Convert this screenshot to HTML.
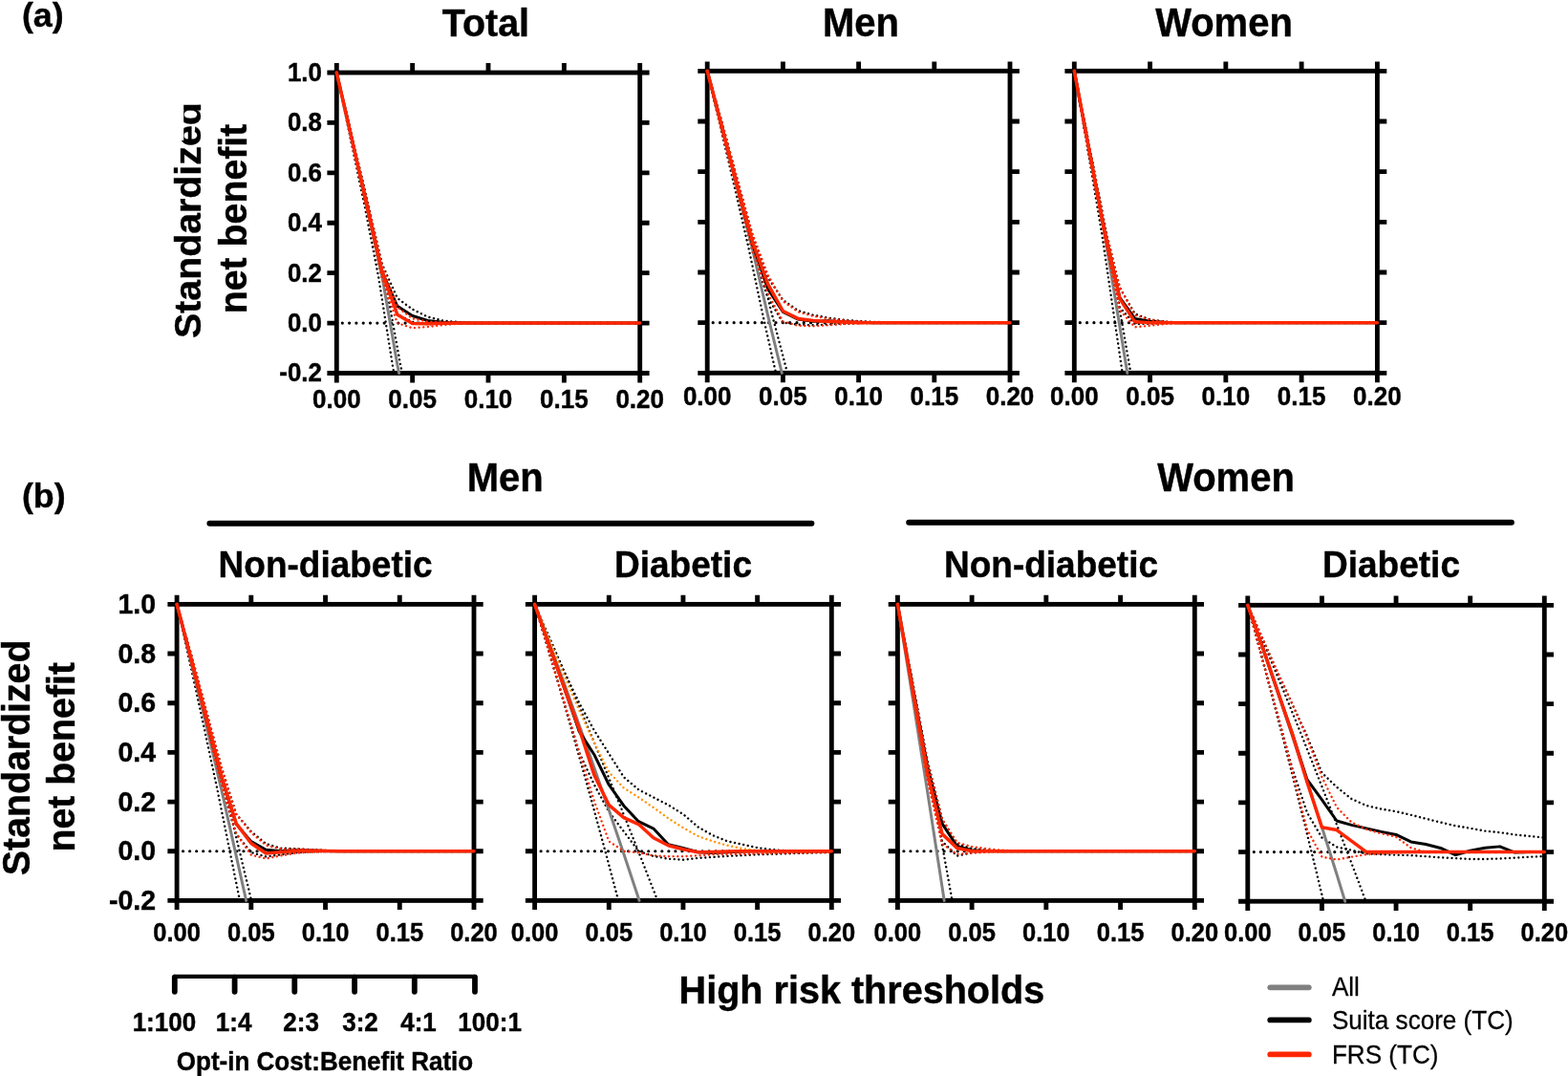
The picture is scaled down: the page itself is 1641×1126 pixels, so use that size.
<!DOCTYPE html>
<html lang="en">
<head>
<meta charset="utf-8">
<title>Decision curve analysis</title>
<style>
html,body{margin:0;padding:0;background:#fff;}
body{width:1641px;height:1126px;overflow:hidden;}
svg{display:block;}
text{font-family:"Liberation Sans",Arial,Helvetica,sans-serif;fill:#000;}
.b{font-weight:bold;stroke:#000;stroke-width:0.4px;}
.tk{font-weight:bold;stroke:#000;stroke-width:0.4px;}
.lg{font-weight:normal;stroke:#000;stroke-width:0.25px;}
.zd{stroke:#000;stroke-width:3.2;stroke-linecap:round;fill:none;}
.ci{stroke-width:2.4;stroke-linecap:round;stroke-linejoin:round;stroke-dasharray:0.01 4.65;fill:none;}
.ln{stroke-linecap:round;stroke-linejoin:round;fill:none;}
</style>
</head>
<body>
<svg width="1641" height="1126" viewBox="0 0 1641 1126">
<rect width="1641" height="1126" fill="#fff"/>
<g><rect x="352.3" y="76" width="317.4" height="314.5" fill="none" stroke="#000" stroke-width="4.85"/>
<path d="M352.3 76v-9.9M352.3 390.5v9.9M431.65 76v-9.9M431.65 390.5v9.9M511 76v-9.9M511 390.5v9.9M590.35 76v-9.9M590.35 390.5v9.9M669.7 76v-9.9M669.7 390.5v9.9M352.3 76h-9.9M669.7 76h9.9M352.3 128.42h-9.9M669.7 128.42h9.9M352.3 180.83h-9.9M669.7 180.83h9.9M352.3 233.25h-9.9M669.7 233.25h9.9M352.3 285.67h-9.9M669.7 285.67h9.9M352.3 338.08h-9.9M669.7 338.08h9.9M352.3 390.5h-9.9M669.7 390.5h9.9" stroke="#000" stroke-width="4.85" fill="none"/>
<path d="M358.3 338.08H666.7" class="zd" stroke-dasharray="0.01 7.3"/>
<polyline points="352.3,76 366.9,145.45 381.5,214.9 396.1,289.6 410.7,381.33 412.38,390.5" class="ci" stroke="#000"/>
<polyline points="352.3,76 368.98,145.45 385.66,214.9 402.34,289.6 419.02,381.33 420.93,390.5" class="ci" stroke="#000"/>
<polyline points="352.3,76 368.17,141.52 384.04,209.66 399.91,276.49 415.78,311.88 431.65,323.67 447.52,331.53 463.39,335.46 479.26,337.04 495.13,337.82 511,338.08 526.87,338.08 542.74,338.08 558.61,338.08 574.48,338.08 590.35,338.08 606.22,338.08 622.09,338.08 637.96,338.08 653.83,338.08 669.7,338.08" class="ci" stroke="#000"/>
<polyline points="352.3,76 368.17,149.38 384.04,220.15 399.91,290.91 415.78,328.91 431.65,336.77 447.52,339.39 463.39,338.87 479.26,338.35 495.13,338.08 511,338.08 526.87,338.08 542.74,338.08 558.61,338.08 574.48,338.08 590.35,338.08 606.22,338.08 622.09,338.08 637.96,338.08 653.83,338.08 669.7,338.08" class="ci" stroke="#000"/>
<polyline points="352.3,76 368.17,145.45 384.04,214.9 399.91,289.6 415.78,381.33 417.6,390.5" class="ln" stroke="#808080" stroke-width="3"/>
<polyline points="352.3,76 368.17,145.45 384.04,214.9 399.91,284.36 415.78,320.26 431.65,330.48 447.52,335.46 463.39,337.3 479.26,337.82 495.13,338.08 511,338.08 526.87,338.08 542.74,338.08 558.61,338.08 574.48,338.08 590.35,338.08 606.22,338.08 622.09,338.08 637.96,338.08 653.83,338.08 669.7,338.08" class="ln" stroke="#000" stroke-width="3"/>
<polyline points="352.3,76 368.17,149.38 384.04,220.15 399.91,290.91 415.78,338.08 431.65,343.33 447.52,342.01 463.39,340.18 479.26,338.87 495.13,338.08 511,338.08 526.87,338.08 542.74,338.08 558.61,338.08 574.48,338.08 590.35,338.08 606.22,338.08 622.09,338.08 637.96,338.08 653.83,338.08 669.7,338.08" class="ci" stroke="#ff2600"/>
<polyline points="352.3,76 368.17,141.52 384.04,209.66 399.91,277.8 415.78,321.31 431.65,333.37 447.52,336.51 463.39,337.56 479.26,338.08 495.13,338.08 511,338.08 526.87,338.08 542.74,338.08 558.61,338.08 574.48,338.08 590.35,338.08 606.22,338.08 622.09,338.08 637.96,338.08 653.83,338.08 669.7,338.08" class="ci" stroke="#ff2600"/>
<polyline points="352.3,76 368.17,145.45 384.04,214.9 399.91,284.36 415.78,329.17 431.65,338.61 447.52,338.87 463.39,338.35 479.26,338.08 495.13,338.08 511,338.08 526.87,338.08 542.74,338.08 558.61,338.08 574.48,338.08 590.35,338.08 606.22,338.08 622.09,338.08 637.96,338.08 653.83,338.08 669.7,338.08" class="ln" stroke="#ff2600" stroke-width="3.5"/>
<text transform="translate(352.3 427) scale(1.0 1.07)" class="tk" font-size="26" text-anchor="middle">0.00</text>
<text transform="translate(431.65 427) scale(1.0 1.07)" class="tk" font-size="26" text-anchor="middle">0.05</text>
<text transform="translate(511 427) scale(1.0 1.07)" class="tk" font-size="26" text-anchor="middle">0.10</text>
<text transform="translate(590.35 427) scale(1.0 1.07)" class="tk" font-size="26" text-anchor="middle">0.15</text>
<text transform="translate(669.7 427) scale(1.0 1.07)" class="tk" font-size="26" text-anchor="middle">0.20</text>
<text transform="translate(336.9 84.9) scale(1.0 1.07)" class="tk" font-size="25.9" text-anchor="end">1.0</text>
<text transform="translate(336.9 137.32) scale(1.0 1.07)" class="tk" font-size="25.9" text-anchor="end">0.8</text>
<text transform="translate(336.9 189.73) scale(1.0 1.07)" class="tk" font-size="25.9" text-anchor="end">0.6</text>
<text transform="translate(336.9 242.15) scale(1.0 1.07)" class="tk" font-size="25.9" text-anchor="end">0.4</text>
<text transform="translate(336.9 294.57) scale(1.0 1.07)" class="tk" font-size="25.9" text-anchor="end">0.2</text>
<text transform="translate(336.9 346.98) scale(1.0 1.07)" class="tk" font-size="25.9" text-anchor="end">0.0</text>
<text transform="translate(336.9 399.4) scale(1.0 1.07)" class="tk" font-size="25.9" text-anchor="end">-0.2</text></g>
<g><rect x="740.2" y="74.3" width="316.8" height="316" fill="none" stroke="#000" stroke-width="4.85"/>
<path d="M740.2 74.3v-9.9M740.2 390.3v9.9M819.4 74.3v-9.9M819.4 390.3v9.9M898.6 74.3v-9.9M898.6 390.3v9.9M977.8 74.3v-9.9M977.8 390.3v9.9M1057 74.3v-9.9M1057 390.3v9.9M740.2 74.3h-9.9M1057 74.3h9.9M740.2 126.97h-9.9M1057 126.97h9.9M740.2 179.63h-9.9M1057 179.63h9.9M740.2 232.3h-9.9M1057 232.3h9.9M740.2 284.97h-9.9M1057 284.97h9.9M740.2 337.63h-9.9M1057 337.63h9.9M740.2 390.3h-9.9M1057 390.3h9.9" stroke="#000" stroke-width="4.85" fill="none"/>
<path d="M746.2 337.63H1054" class="zd" stroke-dasharray="0.01 7.3"/>
<polyline points="740.2,74.3 754.76,136.18 769.31,198.07 783.87,261.27 798.43,330 811.98,390.3" class="ci" stroke="#000"/>
<polyline points="740.2,74.3 757.2,136.18 774.19,198.07 791.19,261.27 808.19,330 824.01,390.3" class="ci" stroke="#000"/>
<polyline points="740.2,74.3 756.04,129.6 771.88,188.85 787.72,246.78 803.56,290.23 819.4,313.93 835.24,324.99 851.08,329.73 866.92,332.63 882.76,334.74 898.6,336.05 914.44,336.84 930.28,337.37 946.12,337.63 961.96,337.63 977.8,337.63 993.64,337.63 1009.48,337.63 1025.32,337.63 1041.16,337.63 1057,337.63" class="ci" stroke="#000"/>
<polyline points="740.2,74.3 756.04,140.13 771.88,202.02 787.72,263.9 803.56,311.3 819.4,337.63 835.24,339.74 851.08,340.27 866.92,339.48 882.76,338.69 898.6,338.16 914.44,337.63 930.28,337.63 946.12,337.63 961.96,337.63 977.8,337.63 993.64,337.63 1009.48,337.63 1025.32,337.63 1041.16,337.63 1057,337.63" class="ci" stroke="#000"/>
<polyline points="740.2,74.3 756.04,136.18 771.88,198.07 787.72,261.27 803.56,330 818.31,390.3" class="ln" stroke="#808080" stroke-width="3"/>
<polyline points="740.2,74.3 756.04,134.87 771.88,195.43 787.72,256 803.56,302.08 819.4,326.31 835.24,334.08 851.08,336.32 866.92,335.79 882.76,336.84 898.6,337.37 914.44,337.63 930.28,337.63 946.12,337.63 961.96,337.63 977.8,337.63 993.64,337.63 1009.48,337.63 1025.32,337.63 1041.16,337.63 1057,337.63" class="ln" stroke="#000" stroke-width="3"/>
<polyline points="740.2,74.3 756.04,140.13 771.88,202.02 787.72,262.58 803.56,307.35 819.4,336.32 835.24,340.79 851.08,341.32 866.92,340.27 882.76,339.21 898.6,338.42 914.44,337.9 930.28,337.63 946.12,337.63 961.96,337.63 977.8,337.63 993.64,337.63 1009.48,337.63 1025.32,337.63 1041.16,337.63 1057,337.63" class="ci" stroke="#ff2600"/>
<polyline points="740.2,74.3 756.04,129.6 771.88,188.85 787.72,245.47 803.56,287.6 819.4,315.25 835.24,326.31 851.08,330.79 866.92,333.42 882.76,335.26 898.6,336.32 914.44,337.11 930.28,337.63 946.12,337.63 961.96,337.63 977.8,337.63 993.64,337.63 1009.48,337.63 1025.32,337.63 1041.16,337.63 1057,337.63" class="ci" stroke="#ff2600"/>
<polyline points="740.2,74.3 756.04,134.87 771.88,195.43 787.72,253.37 803.56,297.08 819.4,325.52 835.24,333.42 851.08,335.53 866.92,336.58 882.76,337.11 898.6,337.63 914.44,337.63 930.28,337.63 946.12,337.63 961.96,337.63 977.8,337.63 993.64,337.63 1009.48,337.63 1025.32,337.63 1041.16,337.63 1057,337.63" class="ln" stroke="#ff2600" stroke-width="3.5"/>
<text transform="translate(740.2 424) scale(1.0 1.07)" class="tk" font-size="26" text-anchor="middle">0.00</text>
<text transform="translate(819.4 424) scale(1.0 1.07)" class="tk" font-size="26" text-anchor="middle">0.05</text>
<text transform="translate(898.6 424) scale(1.0 1.07)" class="tk" font-size="26" text-anchor="middle">0.10</text>
<text transform="translate(977.8 424) scale(1.0 1.07)" class="tk" font-size="26" text-anchor="middle">0.15</text>
<text transform="translate(1057 424) scale(1.0 1.07)" class="tk" font-size="26" text-anchor="middle">0.20</text></g>
<g><rect x="1124.3" y="74.3" width="317.1" height="316" fill="none" stroke="#000" stroke-width="4.85"/>
<path d="M1124.3 74.3v-9.9M1124.3 390.3v9.9M1203.58 74.3v-9.9M1203.58 390.3v9.9M1282.85 74.3v-9.9M1282.85 390.3v9.9M1362.12 74.3v-9.9M1362.12 390.3v9.9M1441.4 74.3v-9.9M1441.4 390.3v9.9M1124.3 74.3h-9.9M1441.4 74.3h9.9M1124.3 126.97h-9.9M1441.4 126.97h9.9M1124.3 179.63h-9.9M1441.4 179.63h9.9M1124.3 232.3h-9.9M1441.4 232.3h9.9M1124.3 284.97h-9.9M1441.4 284.97h9.9M1124.3 337.63h-9.9M1441.4 337.63h9.9M1124.3 390.3h-9.9M1441.4 390.3h9.9" stroke="#000" stroke-width="4.85" fill="none"/>
<path d="M1130.3 337.63H1438.4" class="zd" stroke-dasharray="0.01 7.3"/>
<polyline points="1124.3,74.3 1138.7,158.57 1153.09,244.15 1167.49,341.58 1174.69,390.3" class="ci" stroke="#000"/>
<polyline points="1124.3,74.3 1141.17,158.57 1158.04,244.15 1174.91,341.58 1183.34,390.3" class="ci" stroke="#000"/>
<polyline points="1124.3,74.3 1140.15,153.3 1156.01,236.25 1171.87,300.77 1187.72,328.42 1203.58,334.47 1219.43,336.58 1235.29,337.63 1251.14,337.63 1266.99,337.63 1282.85,337.63 1298.7,337.63 1314.56,337.63 1330.41,337.63 1346.27,337.63 1362.12,337.63 1377.98,337.63 1393.84,337.63 1409.69,337.63 1425.55,337.63 1441.4,337.63" class="ci" stroke="#000"/>
<polyline points="1124.3,74.3 1140.15,163.83 1156.01,249.42 1171.87,321.83 1187.72,338.95 1203.58,338.69 1219.43,338.16 1235.29,337.63 1251.14,337.63 1266.99,337.63 1282.85,337.63 1298.7,337.63 1314.56,337.63 1330.41,337.63 1346.27,337.63 1362.12,337.63 1377.98,337.63 1393.84,337.63 1409.69,337.63 1425.55,337.63 1441.4,337.63" class="ci" stroke="#000"/>
<polyline points="1124.3,74.3 1140.15,158.57 1156.01,244.15 1171.87,341.58 1179.79,390.3" class="ln" stroke="#808080" stroke-width="3"/>
<polyline points="1124.3,74.3 1140.15,158.57 1156.01,242.31 1171.87,311.3 1187.72,333.42 1203.58,336.32 1219.43,337.37 1235.29,337.63 1251.14,337.63 1266.99,337.63 1282.85,337.63 1298.7,337.63 1314.56,337.63 1330.41,337.63 1346.27,337.63 1362.12,337.63 1377.98,337.63 1393.84,337.63 1409.69,337.63 1425.55,337.63 1441.4,337.63" class="ln" stroke="#000" stroke-width="3"/>
<polyline points="1124.3,74.3 1140.15,163.83 1156.01,249.42 1171.87,324.47 1187.72,342.37 1203.58,340.79 1219.43,338.95 1235.29,338.16 1251.14,337.63 1266.99,337.63 1282.85,337.63 1298.7,337.63 1314.56,337.63 1330.41,337.63 1346.27,337.63 1362.12,337.63 1377.98,337.63 1393.84,337.63 1409.69,337.63 1425.55,337.63 1441.4,337.63" class="ci" stroke="#ff2600"/>
<polyline points="1124.3,74.3 1140.15,153.3 1156.01,236.25 1171.87,300.77 1187.72,329.73 1203.58,334.47 1219.43,336.58 1235.29,337.37 1251.14,337.63 1266.99,337.63 1282.85,337.63 1298.7,337.63 1314.56,337.63 1330.41,337.63 1346.27,337.63 1362.12,337.63 1377.98,337.63 1393.84,337.63 1409.69,337.63 1425.55,337.63 1441.4,337.63" class="ci" stroke="#ff2600"/>
<polyline points="1124.3,74.3 1140.15,158.57 1156.01,242.83 1171.87,312.62 1187.72,336.84 1203.58,337.63 1219.43,337.63 1235.29,337.63 1251.14,337.63 1266.99,337.63 1282.85,337.63 1298.7,337.63 1314.56,337.63 1330.41,337.63 1346.27,337.63 1362.12,337.63 1377.98,337.63 1393.84,337.63 1409.69,337.63 1425.55,337.63 1441.4,337.63" class="ln" stroke="#ff2600" stroke-width="3.5"/>
<text transform="translate(1124.3 424) scale(1.0 1.07)" class="tk" font-size="26" text-anchor="middle">0.00</text>
<text transform="translate(1203.58 424) scale(1.0 1.07)" class="tk" font-size="26" text-anchor="middle">0.05</text>
<text transform="translate(1282.85 424) scale(1.0 1.07)" class="tk" font-size="26" text-anchor="middle">0.10</text>
<text transform="translate(1362.12 424) scale(1.0 1.07)" class="tk" font-size="26" text-anchor="middle">0.15</text>
<text transform="translate(1441.4 424) scale(1.0 1.07)" class="tk" font-size="26" text-anchor="middle">0.20</text></g>
<g><rect x="185.1" y="632.35" width="310.9" height="310.05" fill="none" stroke="#000" stroke-width="4.85"/>
<path d="M185.1 632.35v-9.7M185.1 942.4v9.7M262.82 632.35v-9.7M262.82 942.4v9.7M340.55 632.35v-9.7M340.55 942.4v9.7M418.27 632.35v-9.7M418.27 942.4v9.7M496 632.35v-9.7M496 942.4v9.7M185.1 632.35h-9.7M496 632.35h9.7M185.1 684.02h-9.7M496 684.02h9.7M185.1 735.7h-9.7M496 735.7h9.7M185.1 787.38h-9.7M496 787.38h9.7M185.1 839.05h-9.7M496 839.05h9.7M185.1 890.72h-9.7M496 890.72h9.7M185.1 942.4h-9.7M496 942.4h9.7" stroke="#000" stroke-width="4.85" fill="none"/>
<path d="M191.6 890.73H493" class="zd" stroke-dasharray="0.01 7.03"/>
<polyline points="185.1,632.35 199.21,695.65 213.33,760.25 227.44,826.13 241.56,895.89 250.97,942.4" class="ci" stroke="#000"/>
<polyline points="185.1,632.35 201.81,695.65 218.52,760.25 235.23,826.13 251.94,895.89 263.08,942.4" class="ci" stroke="#000"/>
<polyline points="185.1,632.35 200.64,686.61 216.19,744.74 231.73,802.88 247.28,851.97 262.82,870.06 278.37,882.97 293.91,887.62 309.46,888.14 325,889.17 340.55,889.95 356.09,890.47 371.64,890.73 387.19,890.73 402.73,890.73 418.27,890.73 433.82,890.73 449.37,890.73 464.91,890.73 480.45,890.73 496,890.73" class="ci" stroke="#000"/>
<polyline points="185.1,632.35 200.64,696.94 216.19,758.95 231.73,822.26 247.28,872.64 262.82,892.02 278.37,896.41 293.91,894.34 309.46,892.28 325,891.5 340.55,890.98 356.09,890.73 371.64,890.73 387.19,890.73 402.73,890.73 418.27,890.73 433.82,890.73 449.37,890.73 464.91,890.73 480.45,890.73 496,890.73" class="ci" stroke="#000"/>
<polyline points="185.1,632.35 200.64,695.65 216.19,760.25 231.73,826.13 247.28,895.89 257.64,942.4" class="ln" stroke="#808080" stroke-width="3"/>
<polyline points="185.1,632.35 200.64,691.78 216.19,752.49 231.73,813.21 247.28,862.3 262.82,880.65 278.37,889.3 293.91,890.73 309.46,889.69 325,889.95 340.55,890.47 356.09,890.73 371.64,890.73 387.19,890.73 402.73,890.73 418.27,890.73 433.82,890.73 449.37,890.73 464.91,890.73 480.45,890.73 496,890.73" class="ln" stroke="#000" stroke-width="3"/>
<polyline points="185.1,632.35 200.64,696.94 216.19,758.95 231.73,820.96 247.28,872.64 262.82,894.6 278.37,898.48 293.91,895.38 309.46,892.79 325,891.76 340.55,891.24 356.09,890.73 371.64,890.73 387.19,890.73 402.73,890.73 418.27,890.73 433.82,890.73 449.37,890.73 464.91,890.73 480.45,890.73 496,890.73" class="ci" stroke="#ff2600"/>
<polyline points="185.1,632.35 200.64,686.61 216.19,744.74 231.73,802.88 247.28,851.97 262.82,871.35 278.37,884.52 293.91,888.4 309.46,888.4 325,889.17 340.55,889.95 356.09,890.47 371.64,890.73 387.19,890.73 402.73,890.73 418.27,890.73 433.82,890.73 449.37,890.73 464.91,890.73 480.45,890.73 496,890.73" class="ci" stroke="#ff2600"/>
<polyline points="185.1,632.35 200.64,691.78 216.19,751.2 231.73,811.92 247.28,861.92 262.82,882.46 278.37,893.05 293.91,891.76 309.46,890.47 325,890.21 340.55,890.47 356.09,890.73 371.64,890.73 387.19,890.73 402.73,890.73 418.27,890.73 433.82,890.73 449.37,890.73 464.91,890.73 480.45,890.73 496,890.73" class="ln" stroke="#ff2600" stroke-width="3.5"/>
<text transform="translate(185.1 985) scale(1.0 1.07)" class="tk" font-size="25.5" text-anchor="middle">0.00</text>
<text transform="translate(262.82 985) scale(1.0 1.07)" class="tk" font-size="25.5" text-anchor="middle">0.05</text>
<text transform="translate(340.55 985) scale(1.0 1.07)" class="tk" font-size="25.5" text-anchor="middle">0.10</text>
<text transform="translate(418.27 985) scale(1.0 1.07)" class="tk" font-size="25.5" text-anchor="middle">0.15</text>
<text transform="translate(496 985) scale(1.0 1.07)" class="tk" font-size="25.5" text-anchor="middle">0.20</text>
<text transform="translate(163.1 641.85) scale(1.0 1.02)" class="tk" font-size="28.5" text-anchor="end">1.0</text>
<text transform="translate(163.1 693.52) scale(1.0 1.02)" class="tk" font-size="28.5" text-anchor="end">0.8</text>
<text transform="translate(163.1 745.2) scale(1.0 1.02)" class="tk" font-size="28.5" text-anchor="end">0.6</text>
<text transform="translate(163.1 796.88) scale(1.0 1.02)" class="tk" font-size="28.5" text-anchor="end">0.4</text>
<text transform="translate(163.1 848.55) scale(1.0 1.02)" class="tk" font-size="28.5" text-anchor="end">0.2</text>
<text transform="translate(163.1 900.22) scale(1.0 1.02)" class="tk" font-size="28.5" text-anchor="end">0.0</text>
<text transform="translate(163.1 951.9) scale(1.0 1.02)" class="tk" font-size="28.5" text-anchor="end">-0.2</text></g>
<g><rect x="559.6" y="632.35" width="310.7" height="310.05" fill="none" stroke="#000" stroke-width="4.85"/>
<path d="M559.6 632.35v-9.7M559.6 942.4v9.7M637.27 632.35v-9.7M637.27 942.4v9.7M714.95 632.35v-9.7M714.95 942.4v9.7M792.62 632.35v-9.7M792.62 942.4v9.7M870.3 632.35v-9.7M870.3 942.4v9.7M559.6 632.35h-9.7M870.3 632.35h9.7M559.6 684.02h-9.7M870.3 684.02h9.7M559.6 735.7h-9.7M870.3 735.7h9.7M559.6 787.38h-9.7M870.3 787.38h9.7M559.6 839.05h-9.7M870.3 839.05h9.7M559.6 890.72h-9.7M870.3 890.72h9.7M559.6 942.4h-9.7M870.3 942.4h9.7" stroke="#000" stroke-width="4.85" fill="none"/>
<path d="M566.1 890.73H867.3" class="zd" stroke-dasharray="0.01 7.03"/>
<polyline points="559.6,632.35 572.03,673.69 584.46,715.81 596.88,758.95 609.31,802.88 621.74,847.68 634.17,893.49 646.6,940.33 647.13,942.4" class="ci" stroke="#000"/>
<polyline points="559.6,632.35 577.85,673.69 596.11,715.81 614.36,758.95 632.61,802.88 650.87,847.68 669.12,893.49 687.38,940.33 688.16,942.4" class="ci" stroke="#000"/>
<polyline points="559.6,632.35 575.13,668.52 590.67,703.4 606.21,735.7 621.74,764.12 637.27,788.67 652.81,813.21 668.35,826.39 683.88,834.4 699.41,842.41 714.95,851.97 730.49,865.4 746.02,874.19 761.55,880.39 777.09,883.75 792.62,887.11 808.16,889.17 823.69,890.21 839.23,890.73 854.76,890.73 870.3,890.73" class="ci" stroke="#000"/>
<polyline points="559.6,632.35 575.13,684.02 590.67,735.7 606.21,787.38 621.74,820.96 637.27,849.38 652.81,870.06 668.35,890.73 683.88,895.89 699.41,898.73 714.95,899.77 730.49,897.96 746.02,896.93 761.55,895.89 777.09,895.12 792.62,894.34 808.16,893.83 823.69,893.31 839.23,892.79 854.76,892.28 870.3,892.02" class="ci" stroke="#000"/>
<polyline points="559.6,632.35 575.13,673.69 590.67,715.81 606.21,758.95 621.74,802.88 637.27,847.68 652.81,893.49 668.35,940.33 669.02,942.4" class="ln" stroke="#808080" stroke-width="3"/>
<polyline points="559.6,632.35 575.13,676.27 590.67,720.2 606.21,765.41 621.74,789.44 637.27,821.22 652.81,843.18 668.35,859.72 683.88,867.06 699.41,883.75 714.95,887.37 730.49,891.76 746.02,892.53 761.55,891.76 777.09,890.98 792.62,890.73 808.16,890.73 823.69,890.73 839.23,890.73 854.76,890.73 870.3,890.73" class="ln" stroke="#000" stroke-width="3"/>
<polyline points="559.6,632.35 575.13,684.02 590.67,735.7 606.21,787.38 621.74,838.02 637.27,880.39 652.81,890.73 668.35,892.28 683.88,895.38 699.41,896.15 714.95,896.15 730.49,895.38 746.02,894.34 761.55,893.83 777.09,893.57 792.62,893.31 808.16,893.05 823.69,892.79 839.23,892.53 854.76,892.28 870.3,892.02" class="ci" stroke="#ff2600"/>
<polyline points="559.6,632.35 575.13,669.81 590.67,707.28 606.21,743.45 621.74,777.04 637.27,808.04 652.81,824.58 668.35,834.4 683.88,844.99 699.41,856.36 714.95,866.18 730.49,874.96 746.02,880.39 761.55,884.78 777.09,888.14 792.62,889.95 808.16,890.73 823.69,890.73 839.23,890.73 854.76,890.73 870.3,890.73" class="ci" stroke="#ff9300"/>
<polyline points="559.6,632.35 575.13,676.27 590.67,720.2 606.21,762.83 621.74,810.63 637.27,842.41 652.81,855.59 668.35,862.56 683.88,876.77 699.41,884.78 714.95,888.79 730.49,891.76 746.02,891.5 761.55,890.98 777.09,890.73 792.62,890.73 808.16,890.73 823.69,890.73 839.23,890.73 854.76,890.73 870.3,890.73" class="ln" stroke="#ff2600" stroke-width="3.5"/>
<text transform="translate(559.6 985) scale(1.0 1.07)" class="tk" font-size="25.5" text-anchor="middle">0.00</text>
<text transform="translate(637.27 985) scale(1.0 1.07)" class="tk" font-size="25.5" text-anchor="middle">0.05</text>
<text transform="translate(714.95 985) scale(1.0 1.07)" class="tk" font-size="25.5" text-anchor="middle">0.10</text>
<text transform="translate(792.62 985) scale(1.0 1.07)" class="tk" font-size="25.5" text-anchor="middle">0.15</text>
<text transform="translate(870.3 985) scale(1.0 1.07)" class="tk" font-size="25.5" text-anchor="middle">0.20</text></g>
<g><rect x="939.4" y="632.35" width="310.9" height="310.05" fill="none" stroke="#000" stroke-width="4.85"/>
<path d="M939.4 632.35v-9.7M939.4 942.4v9.7M1017.12 632.35v-9.7M1017.12 942.4v9.7M1094.85 632.35v-9.7M1094.85 942.4v9.7M1172.58 632.35v-9.7M1172.58 942.4v9.7M1250.3 632.35v-9.7M1250.3 942.4v9.7M939.4 632.35h-9.7M1250.3 632.35h9.7M939.4 684.02h-9.7M1250.3 684.02h9.7M939.4 735.7h-9.7M1250.3 735.7h9.7M939.4 787.38h-9.7M1250.3 787.38h9.7M939.4 839.05h-9.7M1250.3 839.05h9.7M939.4 890.72h-9.7M1250.3 890.72h9.7M939.4 942.4h-9.7M1250.3 942.4h9.7" stroke="#000" stroke-width="4.85" fill="none"/>
<path d="M945.9 890.73H1247.3" class="zd" stroke-dasharray="0.01 7.03"/>
<polyline points="939.4,632.35 957.59,728.98 975.78,827.55 993.96,928.19 996.48,942.4" class="ci" stroke="#000"/>
<polyline points="939.4,632.35 954.94,712.45 970.49,795.13 986.03,857.14 1001.58,882.97 1017.12,888.14 1032.67,889.69 1048.21,890.73 1063.76,890.73 1079.3,890.73 1094.85,890.73 1110.39,890.73 1125.94,890.73 1141.48,890.73 1157.03,890.73 1172.58,890.73 1188.12,890.73 1203.66,890.73 1219.21,890.73 1234.75,890.73 1250.3,890.73" class="ci" stroke="#000"/>
<polyline points="939.4,632.35 954.94,722.78 970.49,813.21 986.03,880.39 1001.58,895.63 1017.12,892.28 1032.67,891.24 1048.21,890.73 1063.76,890.73 1079.3,890.73 1094.85,890.73 1110.39,890.73 1125.94,890.73 1141.48,890.73 1157.03,890.73 1172.58,890.73 1188.12,890.73 1203.66,890.73 1219.21,890.73 1234.75,890.73 1250.3,890.73" class="ci" stroke="#000"/>
<polyline points="939.4,632.35 954.94,728.98 970.49,827.55 986.03,928.19 988.19,942.4" class="ln" stroke="#808080" stroke-width="3"/>
<polyline points="939.4,632.35 954.94,717.61 970.49,801.59 986.03,861.92 1001.58,885.56 1017.12,889.69 1032.67,890.47 1048.21,890.73 1063.76,890.73 1079.3,890.73 1094.85,890.73 1110.39,890.73 1125.94,890.73 1141.48,890.73 1157.03,890.73 1172.58,890.73 1188.12,890.73 1203.66,890.73 1219.21,890.73 1234.75,890.73 1250.3,890.73" class="ln" stroke="#000" stroke-width="3"/>
<polyline points="939.4,632.35 954.94,725.37 970.49,815.8 986.03,882.97 1001.58,893.83 1017.12,892.79 1032.67,891.76 1048.21,891.24 1063.76,890.73 1079.3,890.73 1094.85,890.73 1110.39,890.73 1125.94,890.73 1141.48,890.73 1157.03,890.73 1172.58,890.73 1188.12,890.73 1203.66,890.73 1219.21,890.73 1234.75,890.73 1250.3,890.73" class="ci" stroke="#ff2600"/>
<polyline points="939.4,632.35 954.94,715.03 970.49,797.71 986.03,857.14 1001.58,881.68 1017.12,886.07 1032.67,888.14 1048.21,889.69 1063.76,890.47 1079.3,890.73 1094.85,890.73 1110.39,890.73 1125.94,890.73 1141.48,890.73 1157.03,890.73 1172.58,890.73 1188.12,890.73 1203.66,890.73 1219.21,890.73 1234.75,890.73 1250.3,890.73" class="ci" stroke="#ff2600"/>
<polyline points="939.4,632.35 954.94,720.2 970.49,808.3 986.03,872.64 1001.58,887.47 1017.12,890.73 1032.67,890.73 1048.21,890.73 1063.76,890.73 1079.3,890.73 1094.85,890.73 1110.39,890.73 1125.94,890.73 1141.48,890.73 1157.03,890.73 1172.58,890.73 1188.12,890.73 1203.66,890.73 1219.21,890.73 1234.75,890.73 1250.3,890.73" class="ln" stroke="#ff2600" stroke-width="3.5"/>
<text transform="translate(939.4 985) scale(1.0 1.07)" class="tk" font-size="25.5" text-anchor="middle">0.00</text>
<text transform="translate(1017.12 985) scale(1.0 1.07)" class="tk" font-size="25.5" text-anchor="middle">0.05</text>
<text transform="translate(1094.85 985) scale(1.0 1.07)" class="tk" font-size="25.5" text-anchor="middle">0.10</text>
<text transform="translate(1172.58 985) scale(1.0 1.07)" class="tk" font-size="25.5" text-anchor="middle">0.15</text>
<text transform="translate(1250.3 985) scale(1.0 1.07)" class="tk" font-size="25.5" text-anchor="middle">0.20</text></g>
<g><rect x="1305.8" y="633.3" width="310.5" height="309.9" fill="none" stroke="#000" stroke-width="4.85"/>
<path d="M1305.8 633.3v-9.7M1305.8 943.2v9.7M1383.42 633.3v-9.7M1383.42 943.2v9.7M1461.05 633.3v-9.7M1461.05 943.2v9.7M1538.67 633.3v-9.7M1538.67 943.2v9.7M1616.3 633.3v-9.7M1616.3 943.2v9.7M1305.8 633.3h-9.7M1616.3 633.3h9.7M1305.8 684.95h-9.7M1616.3 684.95h9.7M1305.8 736.6h-9.7M1616.3 736.6h9.7M1305.8 788.25h-9.7M1616.3 788.25h9.7M1305.8 839.9h-9.7M1616.3 839.9h9.7M1305.8 891.55h-9.7M1616.3 891.55h9.7M1305.8 943.2h-9.7M1616.3 943.2h9.7" stroke="#000" stroke-width="4.85" fill="none"/>
<path d="M1312.3 891.55H1613.3" class="zd" stroke-dasharray="0.01 7.03"/>
<polyline points="1305.8,633.3 1317.88,677.85 1329.96,723.43 1342.04,769.66 1354.11,817.17 1366.19,865.47 1378.27,914.79 1385.06,943.2" class="ci" stroke="#000"/>
<polyline points="1305.8,633.3 1324.63,677.85 1343.46,723.43 1362.3,769.66 1381.13,817.17 1399.96,865.47 1418.79,914.79 1429.38,943.2" class="ci" stroke="#000"/>
<polyline points="1305.8,633.3 1321.33,668.16 1336.85,703.03 1352.38,736.6 1367.9,770.17 1383.42,808.65 1398.95,823.63 1414.47,836.03 1430,843 1445.52,846.61 1461.05,849.2 1476.58,852.81 1492.1,856.69 1507.62,860.56 1523.15,864.18 1538.67,866.76 1554.2,869.6 1569.72,871.15 1585.25,873.47 1600.77,875.02 1616.3,876.57" class="ci" stroke="#000"/>
<polyline points="1305.8,633.3 1321.33,690.12 1336.85,746.93 1352.38,803.75 1367.9,850.23 1383.42,876.57 1398.95,886.38 1414.47,889.74 1430,893.36 1445.52,894.13 1461.05,894.65 1476.58,895.17 1492.1,896.2 1507.62,897.36 1523.15,898.26 1538.67,899.04 1554.2,899.04 1569.72,898.52 1585.25,897.75 1600.77,896.72 1616.3,896.2" class="ci" stroke="#000"/>
<polyline points="1305.8,633.3 1321.33,677.85 1336.85,723.43 1352.38,769.66 1367.9,817.17 1383.42,865.47 1398.95,914.79 1407.68,943.2" class="ln" stroke="#808080" stroke-width="3"/>
<polyline points="1305.8,633.3 1321.33,677.2 1336.85,722.4 1352.38,767.59 1367.9,815.62 1383.42,836.8 1398.95,859.01 1414.47,863.4 1430,866.84 1445.52,870.37 1461.05,873.47 1476.58,880.96 1492.1,883.54 1507.62,887.42 1523.15,894.65 1538.67,890.26 1554.2,887.16 1569.72,885.87 1585.25,892.07 1600.77,891.55 1616.3,891.55" class="ln" stroke="#000" stroke-width="3"/>
<polyline points="1305.8,633.3 1321.33,690.12 1336.85,746.93 1352.38,806.33 1367.9,867.79 1383.42,896.72 1398.95,899.56 1414.47,896.72 1430,894.13 1445.52,893.36 1461.05,892.58 1476.58,892.07 1492.1,891.55 1507.62,891.55 1523.15,891.55 1538.67,891.55 1554.2,891.55 1569.72,891.55 1585.25,891.55 1600.77,891.55 1616.3,891.55" class="ci" stroke="#ff2600"/>
<polyline points="1305.8,633.3 1321.33,668.16 1336.85,703.03 1352.38,736.6 1367.9,772.75 1383.42,813.04 1398.95,844.81 1414.47,860.56 1430,867.79 1445.52,872.18 1461.05,875.67 1476.58,887.16 1492.1,891.55 1507.62,891.55 1523.15,891.55 1538.67,891.55 1554.2,891.55 1569.72,891.55 1585.25,891.55 1600.77,891.55 1616.3,891.55" class="ci" stroke="#ff2600"/>
<polyline points="1305.8,633.3 1321.33,677.2 1336.85,722.4 1352.38,767.59 1367.9,818.21 1383.42,865.73 1398.95,868.57 1414.47,880.19 1430,891.55 1445.52,891.55 1461.05,891.55 1476.58,891.55 1492.1,891.55 1507.62,891.55 1523.15,891.55 1538.67,891.55 1554.2,891.55 1569.72,891.55 1585.25,891.55 1600.77,891.55 1616.3,891.55" class="ln" stroke="#ff2600" stroke-width="3.5"/>
<text transform="translate(1305.8 985) scale(1.0 1.07)" class="tk" font-size="25.5" text-anchor="middle">0.00</text>
<text transform="translate(1383.42 985) scale(1.0 1.07)" class="tk" font-size="25.5" text-anchor="middle">0.05</text>
<text transform="translate(1461.05 985) scale(1.0 1.07)" class="tk" font-size="25.5" text-anchor="middle">0.10</text>
<text transform="translate(1538.67 985) scale(1.0 1.07)" class="tk" font-size="25.5" text-anchor="middle">0.15</text>
<text transform="translate(1616.3 985) scale(1.0 1.07)" class="tk" font-size="25.5" text-anchor="middle">0.20</text></g>
<text transform="translate(22.9 27.6)" class="b" font-size="35.8">(a)</text>
<text transform="translate(22.9 531.3)" class="b" font-size="35.8">(b)</text>
<text transform="translate(508.4 37.7) scale(1.0 1.04)" class="b" font-size="39.4" text-anchor="middle">Total</text>
<text transform="translate(901 37.8) scale(1.0 1.04)" class="b" font-size="40" text-anchor="middle">Men</text>
<text transform="translate(1281 37.8) scale(1.0 1.04)" class="b" font-size="40" text-anchor="middle">Women</text>
<text transform="translate(528.7 514.2) scale(1.0 1.04)" class="b" font-size="40" text-anchor="middle">Men</text>
<text transform="translate(1283 514.2) scale(1.0 1.04)" class="b" font-size="40" text-anchor="middle">Women</text>
<path d="M219.4 547.75H849.4M951.2 546.75H1581.9" stroke="#000" stroke-width="6" stroke-linecap="round" fill="none"/>
<text transform="translate(340.6 603.8) scale(1.0 1.04)" class="b" font-size="37" text-anchor="middle">Non-diabetic</text>
<text transform="translate(715 603.8) scale(1.0 1.04)" class="b" font-size="37" text-anchor="middle">Diabetic</text>
<text transform="translate(1100 603.8) scale(1.0 1.04)" class="b" font-size="37" text-anchor="middle">Non-diabetic</text>
<text transform="translate(1456 603.8) scale(1.0 1.04)" class="b" font-size="37" text-anchor="middle">Diabetic</text>
<text transform="translate(210.3 230.6) rotate(-90)" class="b" font-size="39.3" text-anchor="middle">Standardized</text>
<rect x="160" y="95" width="32.2" height="52" fill="#fff"/>
<text transform="translate(257.6 229) rotate(-90) scale(1.0 1.015)" class="b" font-size="39.3" text-anchor="middle">net benefit</text>
<text transform="translate(30.5 792.9) rotate(-90) scale(1.0 1.015)" class="b" font-size="39.3" text-anchor="middle">Standardized</text>
<text transform="translate(77.7 792.3) rotate(-90) scale(1.0 1.015)" class="b" font-size="39.3" text-anchor="middle">net benefit</text>
<text transform="translate(901.9 1050.3) scale(1.0 1.04)" class="b" font-size="39.6" text-anchor="middle">High risk thresholds</text>
<path d="M182.6 1021.9H497.2" stroke="#000" stroke-width="4.3" stroke-linecap="round" fill="none"/>
<path d="M182.8 1022.6V1037.8M245.6 1022.6V1037.8M308.3 1022.6V1037.8M371.1 1022.6V1037.8M433.8 1022.6V1037.8M497 1022.6V1037.8" stroke="#000" stroke-width="5.8" stroke-linecap="round" fill="none"/>
<text transform="translate(171.9 1079) scale(1.0 1.06)" class="tk" font-size="26" text-anchor="middle">1:100</text>
<text transform="translate(244.6 1079) scale(1.0 1.06)" class="tk" font-size="26" text-anchor="middle">1:4</text>
<text transform="translate(315.1 1079) scale(1.0 1.06)" class="tk" font-size="26" text-anchor="middle">2:3</text>
<text transform="translate(377 1079) scale(1.0 1.06)" class="tk" font-size="26" text-anchor="middle">3:2</text>
<text transform="translate(438 1079) scale(1.0 1.06)" class="tk" font-size="26" text-anchor="middle">4:1</text>
<text transform="translate(512.6 1079) scale(1.0 1.06)" class="tk" font-size="26" text-anchor="middle">100:1</text>
<text transform="translate(340 1120.2) scale(1.0 1.04)" class="tk" font-size="26" text-anchor="middle">Opt-in Cost:Benefit Ratio</text>
<path d="M1329.3 1033.3H1369.8" stroke="#808080" stroke-width="5.8" stroke-linecap="round"/>
<path d="M1329.3 1067.4H1369.8" stroke="#000" stroke-width="5.8" stroke-linecap="round"/>
<path d="M1329.3 1103.4H1369.8" stroke="#ff2600" stroke-width="5.8" stroke-linecap="round"/>
<text transform="translate(1393.9 1042.4) scale(1.0 1.04)" class="lg" font-size="26.1">All</text>
<text transform="translate(1393.9 1076.5) scale(1.0 1.04)" class="lg" font-size="26.1">Suita score (TC)</text>
<text transform="translate(1393.9 1112.8) scale(1.0 1.04)" class="lg" font-size="26.1">FRS (TC)</text>
</svg>
</body>
</html>
